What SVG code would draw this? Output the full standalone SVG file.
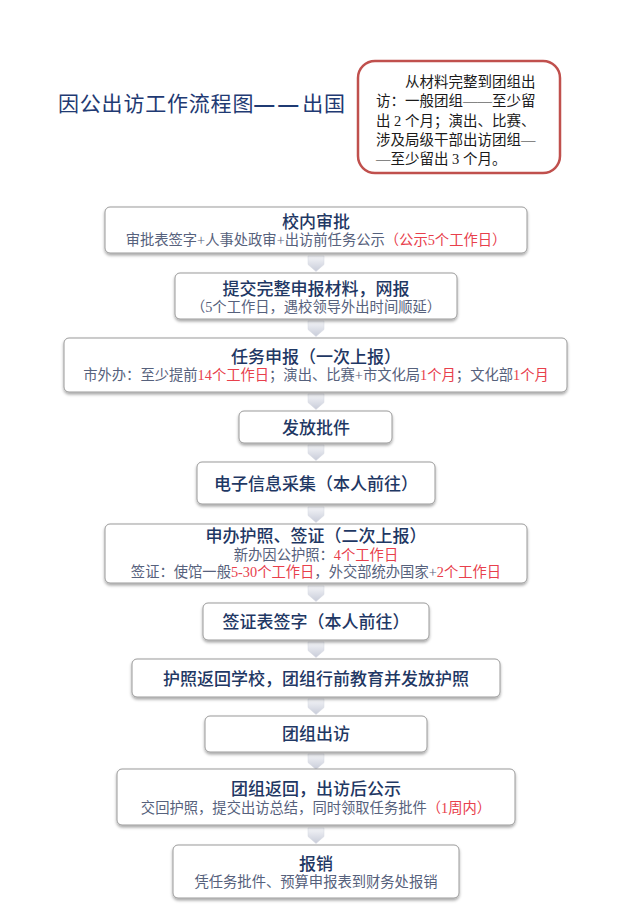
<svg xmlns="http://www.w3.org/2000/svg" width="640" height="921" viewBox="0 0 640 921">
<defs>
<filter id="sh" x="-5%" y="-20%" width="110%" height="150%">
<feDropShadow dx="0" dy="2" stdDeviation="1.5" flood-color="#000" flood-opacity="0.35"/>
</filter>
<linearGradient id="ag" x1="0" y1="0" x2="0" y2="1">
<stop offset="0" stop-color="#f4f5f8"/>
<stop offset="1" stop-color="#c8ccd9"/>
</linearGradient>
<path id="arr" d="M-8,0 H8 V8.5 L0,15.5 L-8,8.5 Z"/>
</defs>
<style>
.box{fill:#fff;stroke:#9a9a9a;stroke-width:1;filter:url(#sh)}
.t{font-family:"Noto Sans CJK SC","Liberation Sans",sans-serif;font-size:17px;font-weight:500;fill:#1f3864;text-anchor:middle}
.s{font-family:"Liberation Serif","Noto Sans CJK SC",serif;font-size:14.3px;fill:#56617c;text-anchor:middle}
.r{fill:#e8404c}
.a{fill:url(#ag);stroke:#d6d9e1;stroke-width:0.5}
.note{font-family:"Liberation Serif","Noto Sans CJK SC",serif;font-size:14.5px;fill:#1a1a1a}
</style>
<rect width="640" height="921" fill="#fff"/>
<g id="title">
<text x="58" y="111" font-family="Noto Sans CJK SC, sans-serif" font-size="21" letter-spacing="0.8" fill="#1f3a73">因公出访工作流程图<tspan font-family="Liberation Sans, sans-serif" font-weight="bold" font-size="20" letter-spacing="4">——</tspan>出国</text>
</g>
<g id="note">
<rect x="358" y="61" width="202" height="112" rx="17" fill="#fff" stroke="#c0504d" stroke-width="2.5"/>
<text class="note" x="405" y="87">从材料完整到团组出</text>
<text class="note" x="376" y="106">访：一般团组——至少留</text>
<text class="note" x="376" y="126">出 2 个月；演出、比赛、</text>
<text class="note" x="376" y="145">涉及局级干部出访团组—</text>
<text class="note" x="376" y="164">—至少留出 3 个月。</text>
</g>
<g id="connectors">
<use href="#arr" class="a" transform="translate(316,256)"/>
<use href="#arr" class="a" transform="translate(316,321)"/>
<use href="#arr" class="a" transform="translate(316,394)"/>
<use href="#arr" class="a" transform="translate(316,445)"/>
<use href="#arr" class="a" transform="translate(316,507)"/>
<use href="#arr" class="a" transform="translate(316,586)"/>
<use href="#arr" class="a" transform="translate(316,642)"/>
<use href="#arr" class="a" transform="translate(316,699)"/>
<use href="#arr" class="a" transform="translate(316,754)"/>
<use href="#arr" class="a" transform="translate(316,828)"/>
</g>
<g id="n1">
<rect class="box" x="105" y="207" width="422" height="46" rx="5"/>
<text class="t" x="316" y="228">校内审批</text>
<text class="s" x="316" y="245">审批表签字+人事处政审+出访前任务公示<tspan class="r">（公示5个工作日）</tspan></text>
</g>
<g id="n2">
<rect class="box" x="175" y="273" width="282" height="46" rx="5"/>
<text class="t" x="316" y="295">提交完整申报材料，网报</text>
<text class="s" x="316" y="312">（5个工作日，遇校领导外出时间顺延）</text>
</g>
<g id="n3">
<rect class="box" x="64" y="338" width="503" height="54" rx="5"/>
<text class="t" x="316" y="363">任务申报（一次上报）</text>
<text class="s" x="316" y="380">市外办：至少提前<tspan class="r">14个工作日</tspan>；演出、比赛+市文化局<tspan class="r">1个月</tspan>；文化部<tspan class="r">1个月</tspan></text>
</g>
<g id="n4">
<rect class="box" x="239" y="411" width="153" height="32" rx="5"/>
<text class="t" x="316" y="434">发放批件</text>
</g>
<g id="n5">
<rect class="box" x="197" y="462" width="238" height="42" rx="5"/>
<text class="t" x="316" y="490">电子信息采集（本人前往）</text>
</g>
<g id="n6">
<rect class="box" x="105" y="524" width="422" height="59" rx="5"/>
<text class="t" x="316" y="542">申办护照、签证（二次上报）</text>
<text class="s" x="316" y="560">新办因公护照：<tspan class="r">4个工作日</tspan></text>
<text class="s" x="316" y="577">签证：使馆一般<tspan class="r">5-30个工作日</tspan>，外交部统办国家+<tspan class="r">2个工作日</tspan></text>
</g>
<g id="n7">
<rect class="box" x="203" y="603" width="226" height="37" rx="5"/>
<text class="t" x="316" y="628">签证表签字（本人前往）</text>
</g>
<g id="n8">
<rect class="box" x="132" y="659" width="368" height="38" rx="5"/>
<text class="t" x="316" y="685">护照返回学校，团组行前教育并发放护照</text>
</g>
<g id="n9">
<rect class="box" x="205" y="716" width="222" height="36" rx="5"/>
<text class="t" x="316" y="740">团组出访</text>
</g>
<g id="n10">
<rect class="box" x="117" y="769" width="398" height="56" rx="5"/>
<text class="t" x="316" y="795">团组返回，出访后公示</text>
<text class="s" x="316" y="813">交回护照，提交出访总结，同时领取任务批件<tspan class="r">（1周内）</tspan></text>
</g>
<g id="n11">
<rect class="box" x="173" y="845" width="286" height="53" rx="5"/>
<text class="t" x="316" y="870">报销</text>
<text class="s" x="316" y="887">凭任务批件、预算申报表到财务处报销</text>
</g>
</svg>
